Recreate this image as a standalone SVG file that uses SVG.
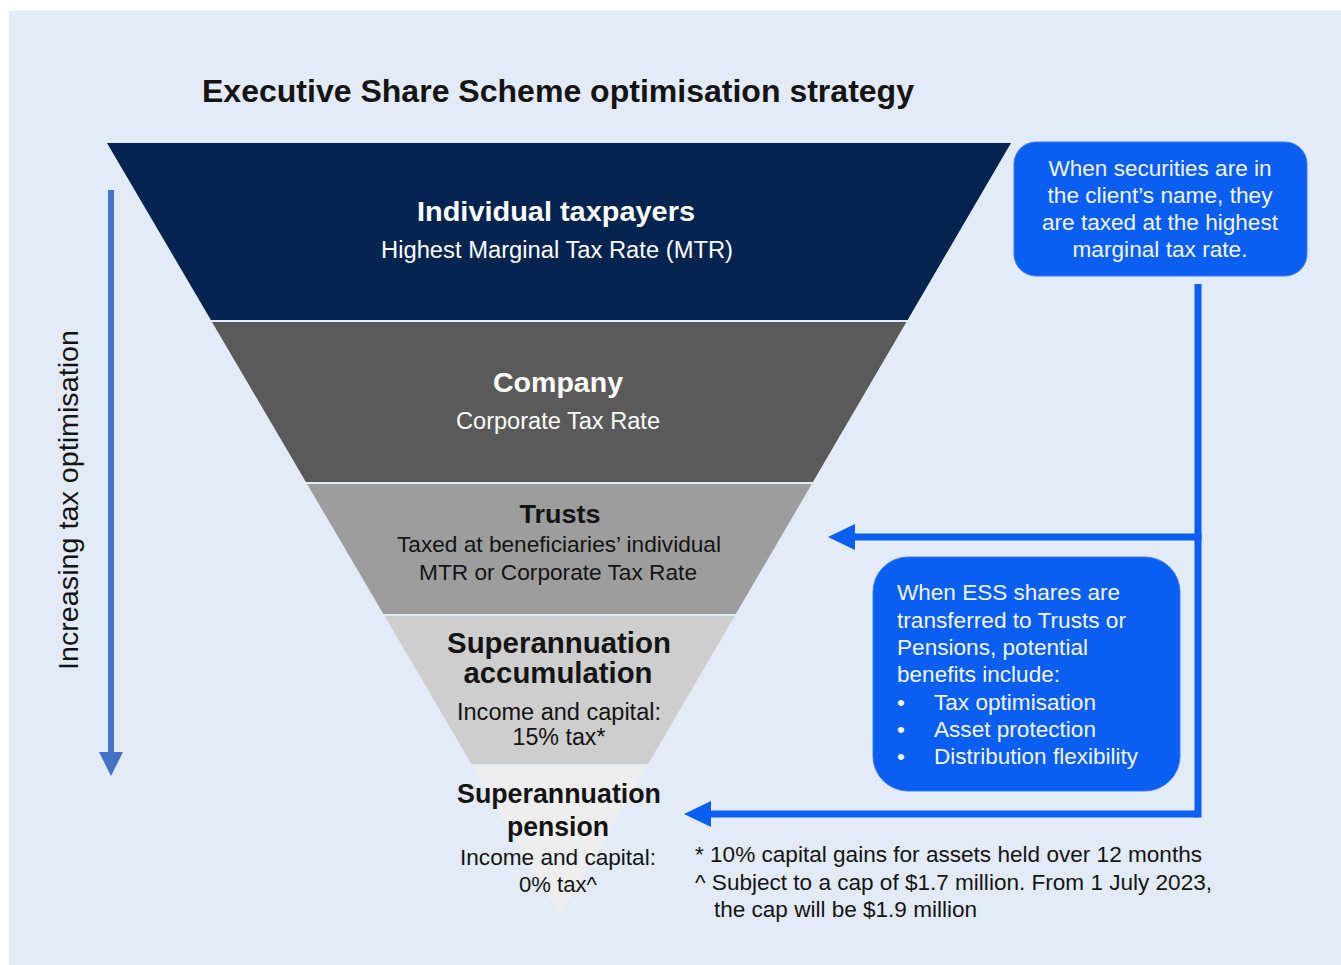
<svg xmlns="http://www.w3.org/2000/svg" width="1341" height="965" viewBox="0 0 1341 965">
<style>
  text { font-family: "Liberation Sans", Arial, sans-serif; }
  .b { font-weight: bold; }
  .w { fill: #ffffff; }
  .k { fill: #141414; }
  .bx { fill: #f2f6ff; font-size: 22.5px; }
  .conn { stroke: #0a5ef2; stroke-width: 7; fill: none; }
</style>
<rect x="0" y="0" width="1341" height="965" fill="#ffffff"/>
<rect x="9" y="11" width="1332" height="954" fill="#e2ebf7"/>

<text class="b k" x="558" y="102" font-size="31" text-anchor="middle" textLength="712" lengthAdjust="spacingAndGlyphs">Executive Share Scheme  optimisation  strategy</text>

<g id="axis">
  <line x1="111" y1="190" x2="111" y2="754" stroke="#4472c4" stroke-width="6"/>
  <polygon points="99,752 123,752 111,776" fill="#4472c4"/>
  <text class="k" transform="translate(78,500) rotate(-90)" font-size="28" text-anchor="middle" textLength="340" lengthAdjust="spacingAndGlyphs">Increasing tax optimisation</text>
</g>

<g id="individual">
  <polygon points="107,143 1011,143 907.6,320 210.9,320" fill="#03244f"/>
  <text class="b w" x="556" y="221" font-size="28" text-anchor="middle" textLength="278" lengthAdjust="spacingAndGlyphs">Individual taxpayers</text>
  <text class="w" x="557" y="258" font-size="23" text-anchor="middle" textLength="352" lengthAdjust="spacingAndGlyphs">Highest Marginal  Tax Rate (MTR)</text>
</g>

<g id="company">
  <polygon points="212,322 906.4,322 812.9,482 305.9,482" fill="#5a5a5a"/>
  <text class="b w" x="558" y="392" font-size="28" text-anchor="middle" textLength="130" lengthAdjust="spacingAndGlyphs">Company</text>
  <text class="w" x="558" y="429" font-size="23" text-anchor="middle" textLength="204" lengthAdjust="spacingAndGlyphs">Corporate Tax Rate</text>
</g>

<g id="trusts">
  <polygon points="307.1,484 811.8,484 735.8,614 383.4,614" fill="#9d9d9d"/>
  <text class="b k" x="560" y="523" font-size="26" text-anchor="middle" textLength="81" lengthAdjust="spacingAndGlyphs">Trusts</text>
  <text class="k" x="559" y="552" font-size="22.5" text-anchor="middle" textLength="324" lengthAdjust="spacingAndGlyphs">Taxed at beneficiaries’ individual</text>
  <text class="k" x="558" y="580" font-size="22.5" text-anchor="middle" textLength="278" lengthAdjust="spacingAndGlyphs">MTR or Corporate Tax Rate</text>
</g>

<g id="super-accumulation">
  <polygon points="384.6,616 734.7,616 648.2,764 471.4,764" fill="#cecece"/>
  <text class="b k" x="559" y="653" font-size="29" text-anchor="middle" textLength="224" lengthAdjust="spacingAndGlyphs">Superannuation</text>
  <text class="b k" x="558" y="683" font-size="29" text-anchor="middle" textLength="189" lengthAdjust="spacingAndGlyphs">accumulation</text>
  <text class="k" x="559" y="720" font-size="23.5" text-anchor="middle" textLength="204" lengthAdjust="spacingAndGlyphs">Income and capital:</text>
  <text class="k" x="559" y="745" font-size="23.5" text-anchor="middle" textLength="93" lengthAdjust="spacingAndGlyphs">15% tax*</text>
</g>

<g id="super-pension">
  <polygon points="472.6,766 647,766 560,915" fill="#eeeeee"/>
  <text class="b k" x="559" y="803" font-size="27" text-anchor="middle" textLength="204" lengthAdjust="spacingAndGlyphs">Superannuation</text>
  <text class="b k" x="558" y="836" font-size="27" text-anchor="middle" textLength="102" lengthAdjust="spacingAndGlyphs">pension</text>
  <text class="k" x="558" y="865" font-size="22.5" text-anchor="middle" textLength="196" lengthAdjust="spacingAndGlyphs">Income and capital:</text>
  <text class="k" x="558" y="892" font-size="22.5" text-anchor="middle" textLength="78" lengthAdjust="spacingAndGlyphs">0% tax^</text>
</g>

<g id="note-client">
  <rect x="1014" y="142" width="293" height="134" rx="22" fill="#0a5ef2" stroke="#3a7cf2" stroke-width="1"/>
  <text class="bx" x="1160" y="176" text-anchor="middle" textLength="223" lengthAdjust="spacingAndGlyphs">When securities are in</text>
  <text class="bx" x="1160" y="203" text-anchor="middle" textLength="225" lengthAdjust="spacingAndGlyphs">the client’s name, they</text>
  <text class="bx" x="1160" y="230" text-anchor="middle" textLength="236" lengthAdjust="spacingAndGlyphs">are taxed at the highest</text>
  <text class="bx" x="1160" y="257" text-anchor="middle" textLength="175" lengthAdjust="spacingAndGlyphs">marginal tax rate.</text>
</g>

<g id="note-benefits">
  <rect x="873" y="557" width="307" height="234" rx="35" fill="#0a5ef2" stroke="#3a7cf2" stroke-width="1"/>
  <text class="bx" x="897" y="600" textLength="223" lengthAdjust="spacingAndGlyphs">When ESS shares are</text>
  <text class="bx" x="897" y="628" textLength="229" lengthAdjust="spacingAndGlyphs">transferred to Trusts or</text>
  <text class="bx" x="897" y="655" textLength="191" lengthAdjust="spacingAndGlyphs">Pensions, potential</text>
  <text class="bx" x="897" y="682" textLength="163" lengthAdjust="spacingAndGlyphs">benefits include:</text>
  <text class="bx" x="897" y="710">•</text>
  <text class="bx" x="934" y="710" textLength="162" lengthAdjust="spacingAndGlyphs">Tax optimisation</text>
  <text class="bx" x="897" y="737">•</text>
  <text class="bx" x="934" y="737" textLength="162" lengthAdjust="spacingAndGlyphs">Asset protection</text>
  <text class="bx" x="897" y="764">•</text>
  <text class="bx" x="934" y="764" textLength="204" lengthAdjust="spacingAndGlyphs">Distribution flexibility</text>
</g>

<g id="connectors">
  <path class="conn" d="M1198,284 V817.5"/>
  <path class="conn" d="M1201.5,537 H853"/>
  <polygon points="828,537 855,524 855,550" fill="#0a5ef2"/>
  <path class="conn" d="M1198,814 H708"/>
  <polygon points="684,814 711,801 711,827" fill="#0a5ef2"/>
</g>

<g id="footnotes">
  <text class="k" x="695" y="862" font-size="22" textLength="507" lengthAdjust="spacingAndGlyphs">* 10% capital gains for assets held over 12 months</text>
  <text class="k" x="695" y="890" font-size="22" textLength="517" lengthAdjust="spacingAndGlyphs">^ Subject to a cap of $1.7 million. From 1 July 2023,</text>
  <text class="k" x="714" y="917" font-size="22" textLength="263" lengthAdjust="spacingAndGlyphs">the cap will be $1.9 million</text>
</g>
</svg>
